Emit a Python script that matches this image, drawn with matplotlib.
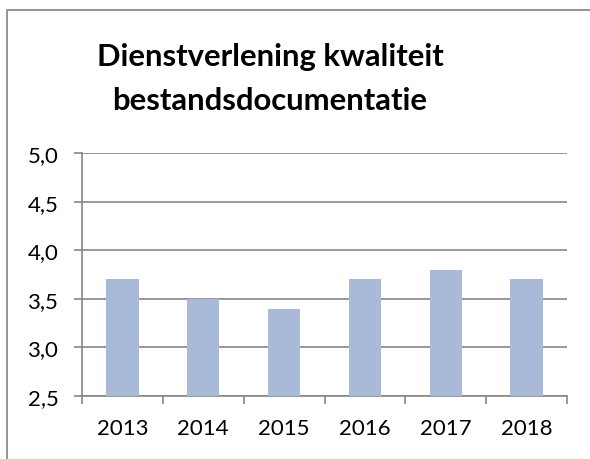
import matplotlib
matplotlib.use("Agg")
import matplotlib.pyplot as plt
from matplotlib.patches import Rectangle
from matplotlib.ticker import FixedLocator, FuncFormatter

years = ["2013", "2014", "2015", "2016", "2017", "2018"]
values = [3.7, 3.5, 3.4, 3.7, 3.8, 3.7]
title_lines = ["Dienstverlening kwaliteit", "bestandsdocumentatie"]
y_ticks = [2.5, 3.0, 3.5, 4.0, 4.5, 5.0]

W, H = 590, 460
DPI = 100
plt.rcParams['font.family'] = ['Lato', 'DejaVu Sans']

fig = plt.figure(figsize=(W / DPI, H / DPI), dpi=DPI)
fig.patch.set_facecolor("white")

# chart border
fig.patches.append(Rectangle((6.5 / W, -0.1), 1.2, (H - 10.5) / H + 0.1,
                             transform=fig.transFigure, fill=False,
                             edgecolor="#8c8c8c", linewidth=1.3))

ax = fig.add_axes([82 / W, 1 - 397 / H, (567 - 82) / W, (397 - 154) / H])
x = list(range(len(years)))
ax.bar(x, values, width=0.4, color="#A9B9D8", zorder=3)

ax.set_xlim(-0.5, len(years) - 0.5)
ax.set_ylim(2.5, 5.0)
ax.set_yticks(y_ticks)
ax.yaxis.set_major_formatter(FuncFormatter(lambda v, p: f"{v:.1f}".replace(".", ",")))
ax.grid(axis="y", color="#868686", linewidth=1.2, zorder=0)
ax.grid(axis="x", visible=False)

bounds = [i - 0.5 for i in range(len(years) + 1)]
ax.xaxis.set_major_locator(FixedLocator(bounds))
ax.set_xticklabels([""] * len(bounds))
ax.set_xticks(x, minor=True)
ax.set_xticklabels(years, minor=True)
ax.tick_params(axis="x", which="major", length=6, color="#868686", width=1.2)
ax.tick_params(axis="x", which="minor", length=0, pad=16, labelsize=16)
ax.tick_params(axis="y", length=6, color="#868686", width=1.2, pad=11, labelsize=16)

for s in ["top", "right"]:
    ax.spines[s].set_visible(False)
for s in ["left", "bottom"]:
    ax.spines[s].set_color("#868686")
    ax.spines[s].set_linewidth(1.2)

fig.text(270 / W, 1 - 66 / H, title_lines[0], ha="center", va="baseline",
         fontsize=22.3, fontweight="bold")
fig.text(270 / W, 1 - 110 / H, title_lines[1], ha="center", va="baseline",
         fontsize=22.3, fontweight="bold")

fig.savefig("out.png", dpi=DPI)
